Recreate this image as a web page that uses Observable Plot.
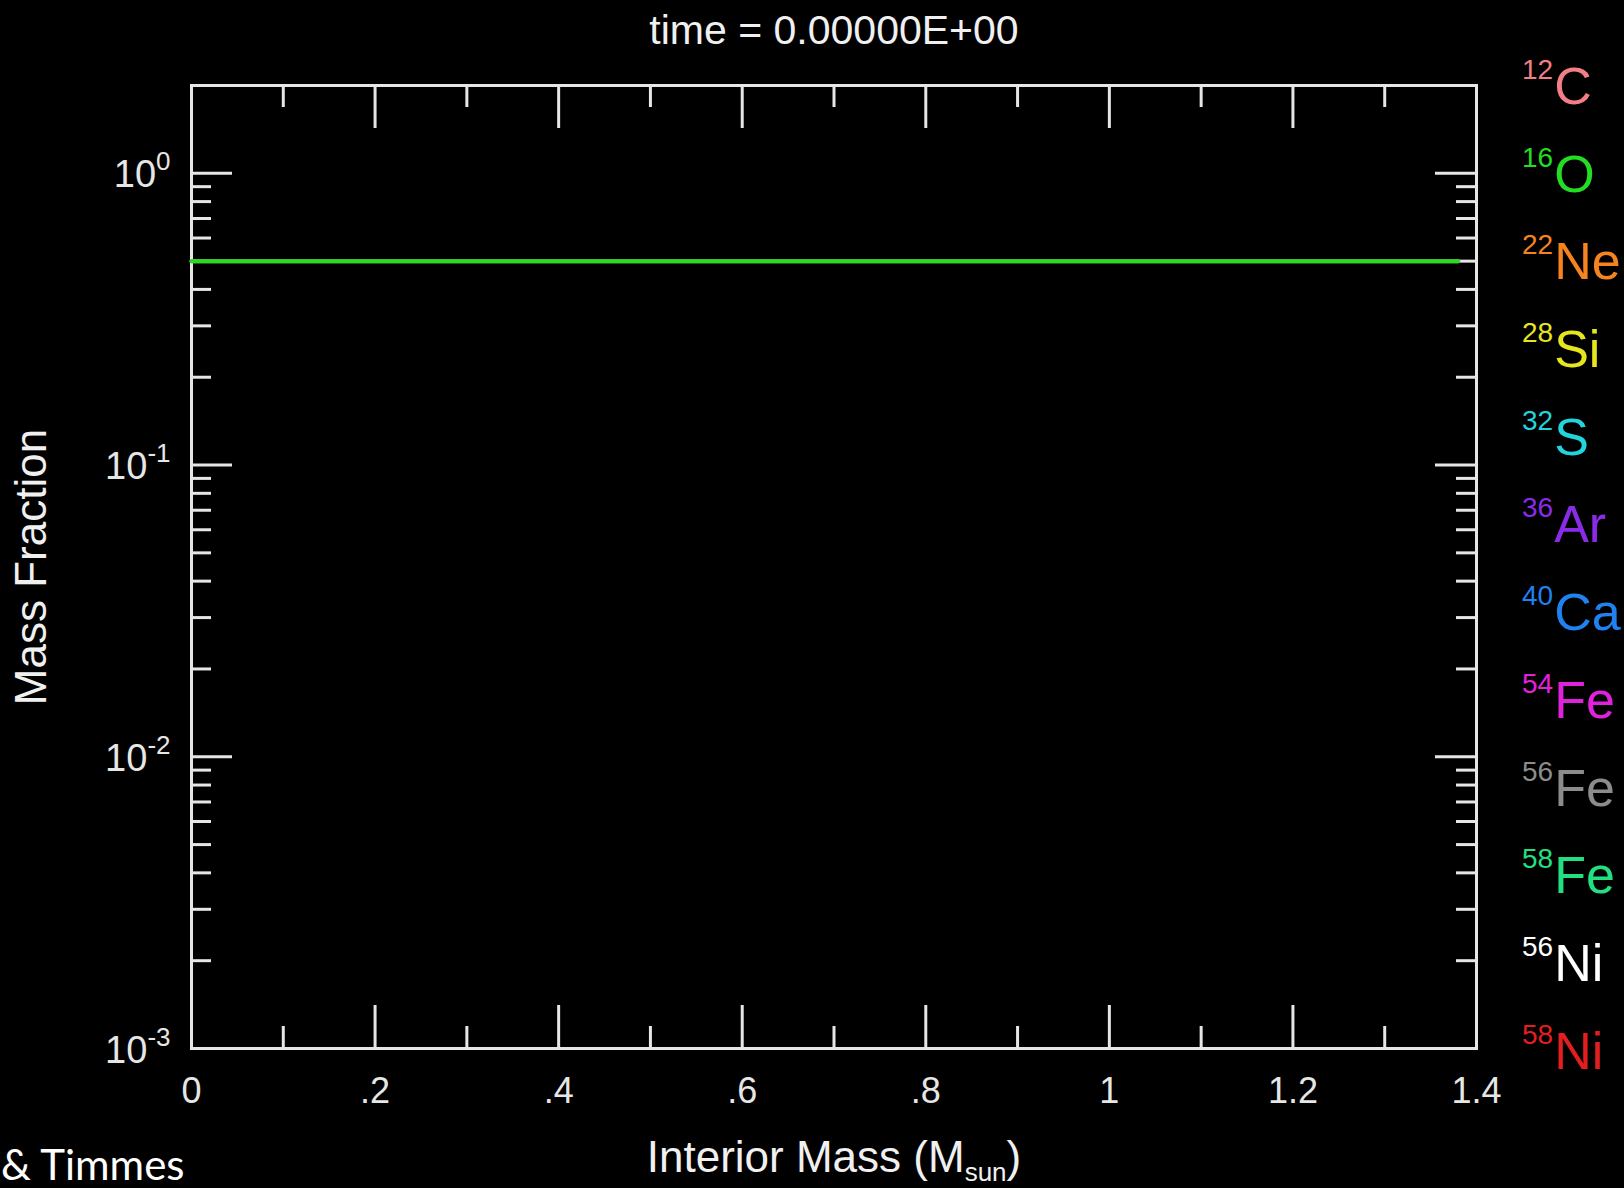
<!DOCTYPE html>
<html>
<head>
<meta charset="utf-8">
<script src="https://cdn.jsdelivr.net/npm/d3@7"></script>
<script src="https://cdn.jsdelivr.net/npm/@observablehq/plot@0.6"></script>
<style>
html, body { margin: 0; padding: 0; background: #000; }
#wrap { position: relative; width: 1624px; height: 1188px; overflow: hidden; background: #000; }
#legend { position: absolute; left: 1522px; top: 43px; font-family: 'Liberation Sans', Arial, Helvetica, sans-serif; font-size: 52px; }
#legend .row { height: 87.7px; line-height: 87.7px; white-space: nowrap; }
#legend .m { position: relative; top: -25px; font-size: 28px; margin-right: 1px; }
</style>
</head>
<body>
<div id="wrap">
  <div id="chart"></div>
  <div id="legend"></div>
</div>
<script>
// ---- data ----
const isoMass   = ["12", "16", "22", "28", "32", "36", "40", "54", "56", "58", "56", "58"];
const isoSymbol = ["C", "O", "Ne", "Si", "S", "Ar", "Ca", "Fe", "Fe", "Fe", "Ni", "Ni"];
const isoColor  = ["#f27f86", "#22dd22", "#f5841f", "#e6e61e", "#22d4dc", "#8a2be8",
                   "#1f82f0", "#e022dc", "#8c8c8c", "#22e082", "#ffffff", "#e41e1e"];

const interiorMass = [0, 1.38];     // M_sun
const fracC12 = [0.5, 0.5];
const fracO16 = [0.5, 0.5];

const xMajorTicks = [0, 0.2, 0.4, 0.6, 0.8, 1.0, 1.2, 1.4];
const xMinorTicks = [0.1, 0.3, 0.5, 0.7, 0.9, 1.1, 1.3];
const xTickLabels = ["0", ".2", ".4", ".6", ".8", "1", "1.2", "1.4"];
const yMajorTicks = [1, 0.1, 0.01, 0.001];
const yTickLabels = ["10^0", "10^-1", "10^-2", "10^-3"];
const yMinorTicks = [0.002, 0.003, 0.004, 0.005, 0.006, 0.007, 0.008, 0.009,
                     0.02, 0.03, 0.04, 0.05, 0.06, 0.07, 0.08, 0.09,
                     0.2, 0.3, 0.4, 0.5, 0.6, 0.7, 0.8, 0.9];

const titleText = "time = 0.00000E+00";
const xLabel = "Interior Mass (M{sun})";
const yLabel = "Mass Fraction";
const creditText = "& Timmes";

// ---- build table ----
const isoNames = isoMass.map((m, i) => m + isoSymbol[i]);
const profiles = [];
interiorMass.forEach((m, i) => profiles.push({iso: "12C", mass: m, frac: fracC12[i]}));
interiorMass.forEach((m, i) => profiles.push({iso: "16O", mass: m, frac: fracO16[i]}));

const W = 1624, H = 1188, mL = 191, mR = 148, mT = 85, mB = 140;
const pw = W - mL - mR, ph = H - mT - mB;
const FONT = "'Liberation Sans', Arial, Helvetica, sans-serif";
const axisColor = "#e6e6e6";
const sw = 3;

const svg = Plot.plot({
  width: W, height: H,
  marginLeft: mL, marginRight: mR, marginTop: mT, marginBottom: mB,
  style: {background: "#000", color: axisColor, fontFamily: FONT, overflow: "visible"},
  x: {domain: [0, 1.4], axis: null},
  y: {type: "log", domain: [0.001, 2], axis: null},
  color: {domain: isoNames, range: isoColor},
  marks: [
    // bottom ticks
    Plot.tickX(xMajorTicks, {x: d => d, insetTop: ph - 43, stroke: axisColor, strokeWidth: sw}),
    Plot.tickX(xMinorTicks, {x: d => d, insetTop: ph - 22, stroke: axisColor, strokeWidth: sw}),
    // top ticks
    Plot.tickX(xMajorTicks, {x: d => d, insetBottom: ph - 43, stroke: axisColor, strokeWidth: sw}),
    Plot.tickX(xMinorTicks, {x: d => d, insetBottom: ph - 22, stroke: axisColor, strokeWidth: sw}),
    // left ticks
    Plot.tickY(yMajorTicks, {y: d => d, insetRight: pw - 41, stroke: axisColor, strokeWidth: sw}),
    Plot.tickY(yMinorTicks, {y: d => d, insetRight: pw - 20, stroke: axisColor, strokeWidth: sw}),
    // right ticks
    Plot.tickY(yMajorTicks, {y: d => d, insetLeft: pw - 41, stroke: axisColor, strokeWidth: sw}),
    Plot.tickY(yMinorTicks, {y: d => d, insetLeft: pw - 20, stroke: axisColor, strokeWidth: sw}),
    Plot.frame({stroke: axisColor, strokeWidth: sw}),
    // abundance profiles
    Plot.line(profiles, {x: "mass", y: "frac", z: "iso", stroke: "iso", strokeWidth: 4}),
    // tick labels
    Plot.text(xMajorTicks, {x: d => d, text: (d, i) => xTickLabels[i], frameAnchor: "bottom",
      lineAnchor: "bottom", dy: 54, fontSize: 36, fill: axisColor}),
    Plot.text(yMajorTicks, {y: d => d, text: (d, i) => yTickLabels[i], frameAnchor: "left",
      textAnchor: "end", lineAnchor: "middle", dx: -21, dy: 2, fontSize: 38, fill: axisColor}),
    // title and axis labels
    Plot.text([titleText], {text: d => d, frameAnchor: "top", lineAnchor: "top", dy: -71,
      fontSize: 41, fill: "#f0f0f0"}),
    Plot.text([xLabel], {text: d => d, frameAnchor: "bottom", lineAnchor: "bottom", dy: 123,
      fontSize: 44, fill: "#f0f0f0"}),
    Plot.text([yLabel], {text: d => d, frameAnchor: "left", textAnchor: "middle", lineAnchor: "middle",
      dx: -160, rotate: -90, fontSize: 44, fill: "#f0f0f0"}),
    Plot.text([creditText], {text: d => d, frameAnchor: "bottom-left", textAnchor: "end", lineAnchor: "bottom",
      dx: -7, dy: 131, fontSize: 42, fontFamily: "Lato, 'Open Sans', sans-serif", fill: "#ffffff"})
  ]
});

// superscripts / subscripts as real text
d3.select(svg).selectAll("text").each(function() {
  const s = this.textContent;
  const t = d3.select(this);
  if (s.includes("^")) {
    const [base, exp] = s.split("^");
    t.text(base);
    t.append("tspan").attr("dy", -17).attr("font-size", 26).text(exp);
  } else if (s.includes("{")) {
    const m = s.match(/^(.*)\{(.*)\}(.*)$/);
    t.text(m[1]);
    t.append("tspan").attr("dy", 9).attr("font-size", 26).text(m[2]);
    t.append("tspan").attr("dy", -9).text(m[3]);
  }
});

document.getElementById("chart").appendChild(svg);

// legend
const legend = d3.select("#legend");
isoNames.forEach((n, i) => {
  const row = legend.append("div").attr("class", "row").style("color", isoColor[i]);
  row.append("span").attr("class", "m").text(isoMass[i]);
  row.append("span").text(isoSymbol[i]);
});
</script>
</body>
</html>
